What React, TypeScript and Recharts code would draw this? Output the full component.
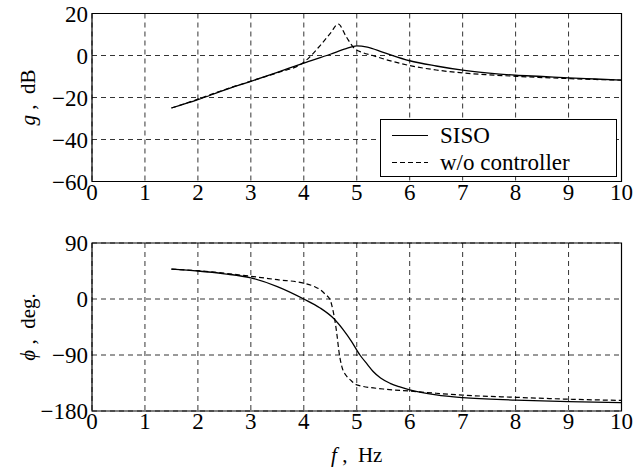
import React from 'react';
import { LineChart, Line, XAxis, YAxis, CartesianGrid, ReferenceArea, Legend, Label } from 'recharts';

const freqTicks = [0, 1, 2, 3, 4, 5, 6, 7, 8, 9, 10];
const gainTicks = [-60, -40, -20, 0, 20];
const phaseTicks = [-180, -90, 0, 90];

// magnitude, SISO controller
const gainSisoFreq = [1.5, 2, 2.5, 3, 3.5, 4, 4.5, 4.8, 5, 5.2, 5.5, 6, 6.5, 7, 7.5, 8, 8.5, 9, 9.5, 10];
const gainSiso = [-25, -21, -16.5, -12.3, -8, -3.6, 0.6, 3.3, 4.6, 4, 1.5, -2.5, -5, -7, -8.4, -9.4, -10, -10.7, -11.2, -11.7];

// magnitude, no controller
const gainOpenFreq = [1.5, 2, 2.5, 3, 3.5, 4, 4.1, 4.3, 4.5, 4.65, 4.8, 4.95, 5.1, 5.3, 5.6, 6, 6.5, 7, 7.5, 8, 8.5, 9, 9.5, 10];
const gainOpen = [-25, -20.8, -16.3, -12.2, -8.2, -3.2, -1, 4.5, 10.5, 15, 9, 3.5, 1.5, 0, -2.3, -4.8, -6.9, -8.3, -9.2, -9.9, -10.5, -11, -11.4, -11.7];

// phase, SISO controller
const phaseSisoFreq = [1.5, 2, 2.5, 3, 3.5, 4, 4.3, 4.56, 4.75, 4.9, 5.06, 5.2, 5.31, 5.45, 5.63, 5.8, 6, 6.5, 7, 8, 9, 10];
const phaseSiso = [48, 45, 40.5, 34, 20, 0, -14, -31, -50, -68, -90, -105, -116.5, -127, -135.5, -141, -146, -154, -158.5, -162.5, -165, -166.5];

// phase, no controller
const phaseOpenFreq = [1.5, 2, 2.5, 3, 3.5, 4, 4.2, 4.31, 4.4, 4.5, 4.55, 4.59, 4.63, 4.66, 4.72, 4.8, 4.88, 5, 5.5, 6, 6.5, 7, 8, 9, 10];
const phaseOpen = [48, 45.5, 41.5, 36.5, 31, 25.5, 20, 15, 8, -2, -18, -36, -60, -82, -109, -123, -130, -138, -144.6, -148, -151.5, -154.5, -158, -161, -163];

const toRows = (fs: number[], vs: number[]) => fs.map((f, i) => ({ f, v: vs[i] }));

const serif = "'Liberation Serif', 'Times New Roman', Times, 'Nimbus Roman', 'Noto Serif', 'DejaVu Serif', serif";
const tickStyle = { fontSize: 23, fontFamily: serif, fill: '#000' };
const fmt = (v: number) => (v < 0 ? '\u2212' + Math.abs(v) : String(v));

const YTitle = (sym: string, unit: string) => (props: any) => {
  const vb = props.viewBox;
  const cx = 28;
  const cy = vb.y + vb.height / 2;
  return (
    <text
      x={cx}
      y={cy}
      transform={`rotate(-90 ${cx} ${cy})`}
      textAnchor="middle"
      dominantBaseline="central"
      style={{ fontFamily: serif, fontSize: 21 }}
      fill="#000"
    >
      <tspan fontStyle="italic">{sym}</tspan>
      {'\u00a0,\u00a0\u00a0' + unit}
    </text>
  );
};

const XTitle = (props: any) => {
  const vb = props.viewBox;
  return (
    <text
      x={vb.x + vb.width / 2}
      y={vb.y + 44}
      textAnchor="middle"
      dominantBaseline="central"
      style={{ fontFamily: serif, fontSize: 21 }}
      fill="#000"
    >
      <tspan fontStyle="italic">f</tspan>
      {'\u00a0,\u00a0\u00a0Hz'}
    </text>
  );
};

const LegendBox = (props: any) => (
  <div
    style={{
      border: '1px solid #000',
      background: '#fff',
      width: 235,
      height: 54,
      boxSizing: 'content-box',
      fontFamily: serif,
      fontSize: 23,
      paddingTop: 2,
    }}
  >
    {(props.payload || []).map((p: any) => (
      <div key={p.value} style={{ display: 'flex', alignItems: 'center', height: 27, lineHeight: '27px' }}>
        <svg width={59} height={27} style={{ flex: 'none' }}>
          <line
            x1={11}
            x2={47}
            y1={13.5}
            y2={13.5}
            stroke="#000"
            strokeWidth={1.2}
            strokeDasharray={p.payload && p.payload.strokeDasharray}
          />
        </svg>
        <span style={{ whiteSpace: 'nowrap' }}>{p.value}</span>
      </div>
    ))}
  </div>
);

export default function App() {
  return (
    <div style={{ position: 'absolute', left: 0, top: 0, width: 633, height: 473, background: '#fff' }}>
      <div style={{ position: 'absolute', left: 0, top: 0 }}>
        <LineChart width={633} height={215} margin={{ top: 13.5, right: 11.5, bottom: 0, left: 0 }}>
          <CartesianGrid stroke="#000" strokeWidth={0.8} strokeDasharray="5 4" />
          <XAxis
            type="number"
            dataKey="f"
            domain={[0, 10]}
            ticks={freqTicks}
            height={33.5}
            tick={tickStyle}
            tickLine={false}
            axisLine={false}
            tickSize={0}
            tickMargin={2}
            interval={0}
            allowDataOverflow
          />
          <YAxis
            type="number"
            domain={[-60, 20]}
            ticks={gainTicks}
            width={92}
            tick={tickStyle}
            tickFormatter={fmt}
            tickLine={false}
            axisLine={false}
            tickSize={0}
            tickMargin={4}
            interval={0}
          >
            <Label content={YTitle('g', 'dB')} />
          </YAxis>
          <ReferenceArea x1={0} x2={10} y1={-60} y2={20} fill="none" stroke="#000" strokeWidth={1.2} />
          <Line
            data={toRows(gainSisoFreq, gainSiso)}
            dataKey="v"
            name="SISO"
            type="monotone"
            stroke="#000"
            strokeWidth={1.3}
            dot={false}
            isAnimationActive={false}
          />
          <Line
            data={toRows(gainOpenFreq, gainOpen)}
            dataKey="v"
            name="w/o controller"
            type="monotone"
            stroke="#000"
            strokeWidth={1.2}
            strokeDasharray="5 3"
            dot={false}
            isAnimationActive={false}
          />
          <Legend
            content={LegendBox}
            layout="vertical"
            align="center"
            verticalAlign="middle"
            wrapperStyle={{ position: 'absolute', left: 380, top: 119, width: 237, height: 58 }}
          />
        </LineChart>
      </div>
      <div style={{ position: 'absolute', left: 0, top: 230 }}>
        <LineChart width={633} height={243} margin={{ top: 13, right: 11.5, bottom: 0, left: 0 }}>
          <CartesianGrid stroke="#000" strokeWidth={0.8} strokeDasharray="5 4" />
          <XAxis
            type="number"
            dataKey="f"
            domain={[0, 10]}
            ticks={freqTicks}
            height={62}
            tick={tickStyle}
            tickLine={false}
            axisLine={false}
            tickSize={0}
            tickMargin={2}
            interval={0}
            allowDataOverflow
          >
            <Label content={XTitle} />
          </XAxis>
          <YAxis
            type="number"
            domain={[-180, 90]}
            ticks={phaseTicks}
            width={92}
            tick={tickStyle}
            tickFormatter={fmt}
            tickLine={false}
            axisLine={false}
            tickSize={0}
            tickMargin={4}
            interval={0}
          >
            <Label content={YTitle('\u03d5', 'deg.')} />
          </YAxis>
          <ReferenceArea x1={0} x2={10} y1={-180} y2={90} fill="none" stroke="#000" strokeWidth={1.2} />
          <Line
            data={toRows(phaseSisoFreq, phaseSiso)}
            dataKey="v"
            name="SISO"
            type="monotone"
            stroke="#000"
            strokeWidth={1.3}
            dot={false}
            isAnimationActive={false}
          />
          <Line
            data={toRows(phaseOpenFreq, phaseOpen)}
            dataKey="v"
            name="w/o controller"
            type="monotone"
            stroke="#000"
            strokeWidth={1.2}
            strokeDasharray="5 3"
            dot={false}
            isAnimationActive={false}
          />
        </LineChart>
      </div>
    </div>
  );
}
